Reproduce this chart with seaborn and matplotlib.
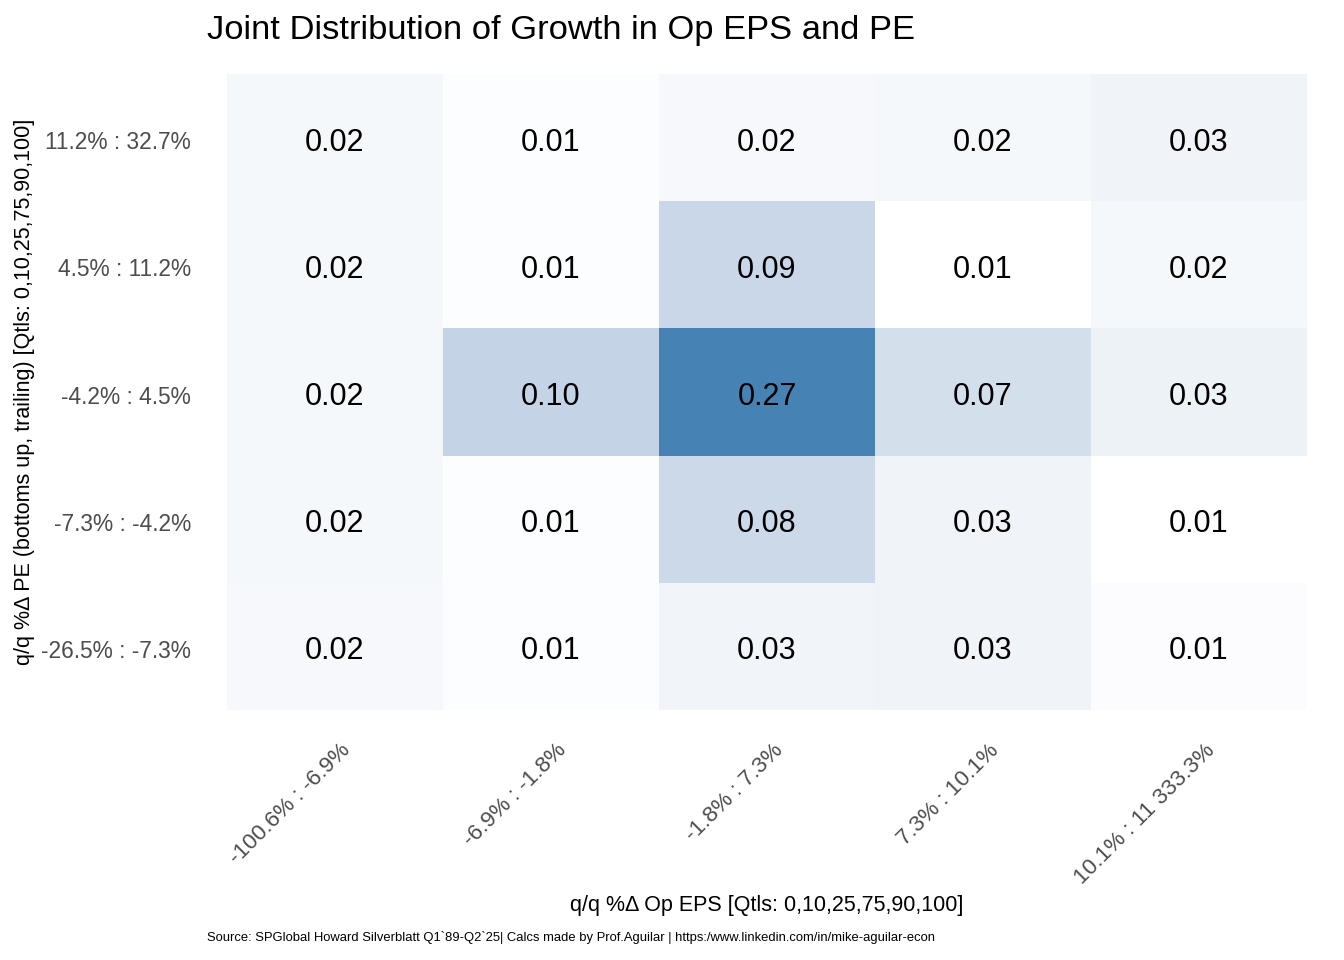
import numpy as np
import pandas as pd
import matplotlib
matplotlib.use("Agg")
import matplotlib.pyplot as plt
import matplotlib.transforms as mtransforms
from matplotlib.colors import ListedColormap
import seaborn as sns

# ── Data (joint probabilities, rows = PE bins top->bottom, cols = EPS bins) ──
eps_bins = ["-100.6% : -6.9%", "-6.9% : -1.8%", "-1.8% : 7.3%",
            "7.3% : 10.1%", "10.1% : 11 333.3%"]
pe_bins = ["11.2% : 32.7%", "4.5% : 11.2%", "-4.2% : 4.5%",
           "-7.3% : -4.2%", "-26.5% : -7.3%"]

row_top    = [0.022, 0.012, 0.021, 0.022, 0.030]
row_upper  = [0.022, 0.012, 0.088, 0.007, 0.022]
row_mid    = [0.022, 0.096, 0.270, 0.072, 0.034]
row_lower  = [0.022, 0.012, 0.084, 0.030, 0.008]
row_bottom = [0.021, 0.012, 0.029, 0.030, 0.013]

TITLE   = "Joint Distribution of Growth in Op EPS and PE"
XLABEL  = "q/q %\u0394 Op EPS [Qtls: 0,10,25,75,90,100]"
YLABEL  = "q/q %\u0394 PE (bottoms up, trailing) [Qtls: 0,10,25,75,90,100]"
CAPTION = ("Source: SPGlobal Howard Silverblatt Q1`89-Q2`25| Calcs made by "
           "Prof.Aguilar | https:/www.linkedin.com/in/mike-aguilar-econ")

df = pd.DataFrame([row_top, row_upper, row_mid, row_lower, row_bottom],
                  index=pe_bins, columns=eps_bins)


# ── white -> steelblue gradient interpolated in CIELAB ──────────────────────
def _srgb_to_lab(rgb):
    c = np.asarray(rgb, float)
    c = np.where(c <= 0.04045, c / 12.92, ((c + 0.055) / 1.055) ** 2.4)
    m = np.array([[0.4124, 0.3576, 0.1805],
                  [0.2126, 0.7152, 0.0722],
                  [0.0193, 0.1192, 0.9505]])
    xyz = m @ c / np.array([0.95047, 1.0, 1.08883])
    f = np.where(xyz > 0.008856, np.cbrt(xyz), 7.787 * xyz + 16 / 116)
    return np.array([116 * f[1] - 16, 500 * (f[0] - f[1]), 200 * (f[1] - f[2])])


def _lab_to_srgb(lab):
    L, a, b = lab
    fy = (L + 16) / 116
    f = np.array([fy + a / 500, fy, fy - b / 200])
    xyz = np.where(f ** 3 > 0.008856, f ** 3, (f - 16 / 116) / 7.787)
    xyz = xyz * np.array([0.95047, 1.0, 1.08883])
    m = np.array([[3.2406, -1.5372, -0.4986],
                  [-0.9689, 1.8758, 0.0415],
                  [0.0557, -0.2040, 1.0570]])
    c = m @ xyz
    c = np.where(c <= 0.0031308, 12.92 * c, 1.055 * np.clip(c, 0, None) ** (1 / 2.4) - 0.055)
    return np.clip(c, 0, 1)


lab_lo = _srgb_to_lab([1.0, 1.0, 1.0])
lab_hi = _srgb_to_lab([70 / 255, 130 / 255, 180 / 255])
cmap = ListedColormap([_lab_to_srgb(lab_lo + t * (lab_hi - lab_lo))
                       for t in np.linspace(0, 1, 256)])

sns.set_theme(style="white")
plt.rcParams["font.family"] = ["Liberation Sans", "DejaVu Sans"]
plt.rcParams["text.color"] = "black"

W, H = 1344, 960
fig = plt.figure(figsize=(W / 100, H / 100), dpi=100)
ax = fig.add_axes([227 / W, 1 - 710 / H, 1080 / W, 636 / H])

sns.heatmap(df, ax=ax, cmap=cmap, cbar=False, annot=True, fmt=".2f",
            annot_kws={"fontsize": 22, "color": "black"},
            linewidths=0)

down = mtransforms.ScaledTranslation(0, -5 / 100, fig.dpi_scale_trans)
for t in ax.texts:
    t.set_transform(t.get_transform() + down)

ax.tick_params(axis="both", length=0)
ax.tick_params(axis="y", pad=26, labelsize=16.4, labelcolor="#4D4D4D")
ax.tick_params(axis="x", pad=0, labelsize=16.2, labelcolor="#4D4D4D")
ax.set_yticklabels(pe_bins, rotation=0)
for lbl in ax.get_yticklabels():
    lbl.set_transform(lbl.get_transform() + down)
ax.set_xticklabels(eps_bins, rotation=45, ha="right", va="top",
                   rotation_mode="anchor")
shift = mtransforms.ScaledTranslation(5 / 100, -30 / 100, fig.dpi_scale_trans)
for lbl in ax.get_xticklabels():
    lbl.set_transform(lbl.get_transform() + shift)

ax.set_xlabel("")
ax.set_ylabel("")
for s in ax.spines.values():
    s.set_visible(False)

fig.text(207 / W, 1 - 31 / H, TITLE, fontsize=24.8, ha="left", va="center")
fig.text(767 / W, 1 - 906 / H, XLABEL, fontsize=15.5, ha="center", va="center")
fig.text(25 / W, 1 - 392 / H, YLABEL, fontsize=15.5, ha="center", va="center",
         rotation=90)
fig.text(207 / W, 1 - 938 / H, CAPTION, fontsize=9.4, ha="left", va="center")

fig.savefig("out.png", dpi=100)
